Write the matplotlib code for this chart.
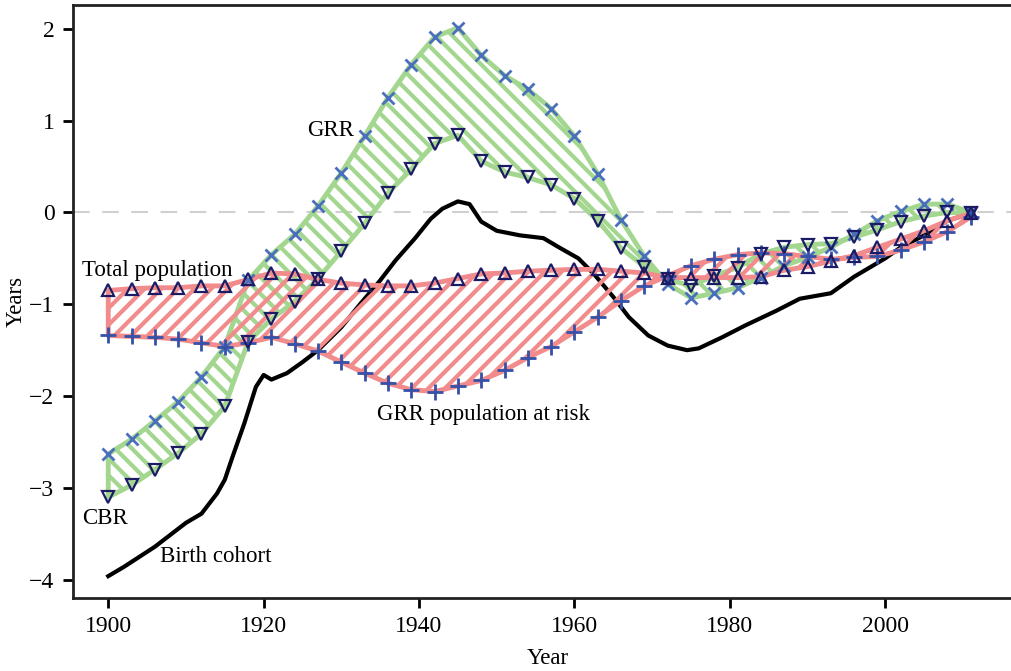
import numpy as np
import matplotlib
matplotlib.use("Agg")
import matplotlib.pyplot as plt

# marker years (every third year)
years = np.arange(1900, 2012, 3)

# GRR (x markers) and CBR (down triangles) -> green band
grr = [-2.63, -2.47, -2.27, -2.06, -1.79, -1.46, -0.74, -0.46, -0.24, 0.07,
       0.43, 0.83, 1.25, 1.61, 1.91, 2.01, 1.71, 1.49, 1.34, 1.13,
       0.83, 0.42, -0.08, -0.48, -0.78, -0.93, -0.88, -0.82, -0.71, -0.58,
       -0.49, -0.38, -0.24, -0.09, 0.01, 0.09, 0.09, 0.00]
cbr = [-3.10, -2.97, -2.80, -2.62, -2.41, -2.11, -1.41, -1.16, -0.97, -0.72,
       -0.42, -0.12, 0.21, 0.47, 0.75, 0.84, 0.56, 0.44, 0.38, 0.30,
       0.15, -0.09, -0.39, -0.59, -0.73, -0.80, -0.69, -0.60, -0.45, -0.38,
       -0.35, -0.34, -0.27, -0.19, -0.10, -0.04, 0.00, -0.01]

# Total population (up triangles) and GRR population at risk (+) -> red band
total_pop = [-0.85, -0.83, -0.82, -0.82, -0.80, -0.80, -0.73, -0.66, -0.67, -0.73,
             -0.77, -0.79, -0.80, -0.80, -0.77, -0.72, -0.67, -0.66, -0.64, -0.63,
             -0.62, -0.62, -0.64, -0.66, -0.71, -0.71, -0.71, -0.71, -0.70, -0.63,
             -0.59, -0.53, -0.47, -0.38, -0.29, -0.20, -0.09, -0.01]
grr_risk = [-1.34, -1.35, -1.36, -1.38, -1.42, -1.46, -1.42, -1.36, -1.43, -1.51,
            -1.63, -1.75, -1.86, -1.93, -1.95, -1.89, -1.83, -1.72, -1.58, -1.46,
            -1.30, -1.14, -0.96, -0.80, -0.69, -0.58, -0.51, -0.46, -0.44, -0.45,
            -0.48, -0.51, -0.49, -0.48, -0.41, -0.32, -0.21, -0.05]

# Birth cohort line
bc_years = [1900, 1902, 1906, 1910, 1912, 1914, 1915, 1916, 1917.5, 1919,
            1920, 1921, 1923, 1925, 1927, 1930, 1932.5, 1935, 1937, 1939.5,
            1941.5, 1943, 1945, 1946.5, 1948, 1950, 1953, 1956, 1958, 1960.5,
            1962.5, 1965, 1967, 1969.5, 1972, 1974.5, 1976, 1979, 1982, 1986,
            1989, 1993, 1996, 2000, 2002, 2005, 2008, 2011]
bc_vals = [-3.96, -3.86, -3.64, -3.38, -3.28, -3.06, -2.91, -2.66, -2.30, -1.90,
           -1.77, -1.82, -1.75, -1.63, -1.50, -1.25, -0.99, -0.74, -0.52, -0.28,
           -0.07, 0.04, 0.12, 0.09, -0.10, -0.20, -0.25, -0.28, -0.38, -0.50,
           -0.67, -0.92, -1.14, -1.34, -1.45, -1.50, -1.48, -1.36, -1.23, -1.07,
           -0.94, -0.88, -0.70, -0.50, -0.38, -0.25, -0.09, -0.01]

GREEN = "#a3d68e"
RED = "#f28b8b"
BLUE = "#4a6fbd"
NAVY = "#1c1c66"

plt.rcParams["font.family"] = ["Liberation Serif", "DejaVu Serif"]
plt.rcParams["font.size"] = 16.5
plt.rcParams["hatch.linewidth"] = 3.0
plt.rcParams["axes.unicode_minus"] = True

fig = plt.figure(figsize=(10.12, 6.71), dpi=100)
ax = fig.add_axes([72.5 / 1012, 73 / 671, 950 / 1012, 593 / 671])

ax.axhline(0, color="#d0d0d0", lw=1.5, dashes=(8, 6), zorder=1)

ax.plot(bc_years, bc_vals, color="black", lw=3, zorder=2)

# green band
ax.fill_between(years, grr, cbr, facecolor="none", edgecolor=GREEN,
                hatch="\\\\", lw=3.5, zorder=3)
# red band
ax.fill_between(years, total_pop, grr_risk, facecolor="none", edgecolor=RED,
                hatch="//", lw=3.5, zorder=4)

ax.plot(years, grr, ls="none", marker="x", ms=9, mew=2, color=BLUE, zorder=6)
ax.plot(years, grr_risk, ls="none", marker="+", ms=12, mew=2, color="#3651a8", zorder=6)
ax.plot(years, cbr, ls="none", marker="v", ms=9, mew=1.6, mfc="none", mec=NAVY, zorder=7)
ax.plot(years, total_pop, ls="none", marker="^", ms=9, mew=1.6, mfc="none", mec=NAVY, zorder=7)

ax.text(1931.6, 0.89, "GRR", ha="right", va="center")
ax.text(1896.6, -0.63, "Total population", ha="left", va="center")
ax.text(1896.6, -3.33, "CBR", ha="left", va="center")
ax.text(1906.6, -3.75, "Birth cohort", ha="left", va="center")
ax.text(1934.6, -2.20, "GRR population at risk", ha="left", va="center")

ax.set_xlim(1895.4, 1895.4 + 950 / 7.77)
ax.set_ylim(-4.198, 2.258)
ax.set_xticks([1900, 1920, 1940, 1960, 1980, 2000])
ax.set_yticks([-4, -3, -2, -1, 0, 1, 2])
ax.tick_params(direction="out", length=7, width=2, pad=6, labelsize=17)
for s in ax.spines.values():
    s.set_linewidth(2)
    s.set_color("#222222")

ax.set_xlabel("Year", labelpad=8)
ax.set_ylabel("Years", labelpad=2)

fig.savefig("out.png", dpi=100)
